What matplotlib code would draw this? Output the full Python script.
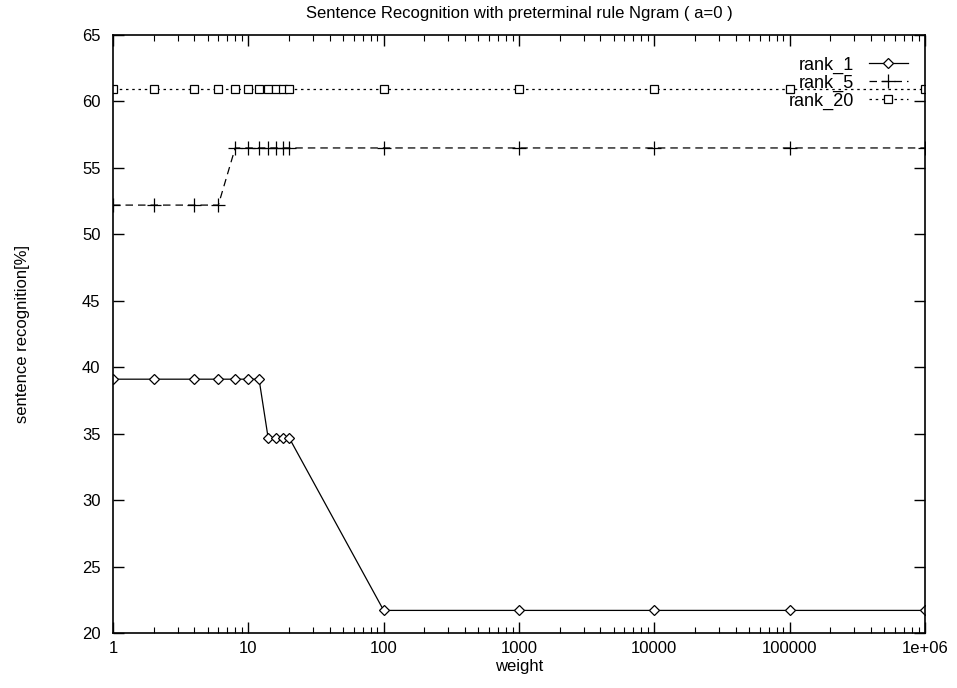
import matplotlib
matplotlib.use("Agg")
import matplotlib.pyplot as plt
from matplotlib.ticker import LogLocator, NullFormatter

plt.rcParams['font.family'] = ['Liberation Sans', 'DejaVu Sans']

weights = [1, 2, 4, 6, 8, 10, 12, 14, 16, 18, 20, 100, 1000, 10000, 100000, 1000000]
rank_1 = [39.1, 39.1, 39.1, 39.1, 39.1, 39.1, 39.1, 34.7, 34.7, 34.7, 34.7,
          21.7, 21.7, 21.7, 21.7, 21.7]
rank_5 = [52.2, 52.2, 52.2, 52.2, 56.5, 56.5, 56.5, 56.5, 56.5, 56.5, 56.5,
          56.5, 56.5, 56.5, 56.5, 56.5]
rank_20 = [60.9] * 16

xtick_vals = [1, 10, 100, 1000, 10000, 100000, 1000000]
xtick_labels = ["1", "10", "100", "1000", "10000", "100000", "1e+06"]
ytick_vals = [20, 25, 30, 35, 40, 45, 50, 55, 60, 65]

fig = plt.figure(figsize=(9.57, 6.88), dpi=100)
ax = fig.add_axes([113 / 957, 1 - 633 / 688, (925 - 113) / 957, (633 - 35) / 688])

ax.plot(weights, rank_1, color='black', lw=0.9, ls='-', marker='D', ms=5,
        mfc='white', mec='black', mew=0.9, label='rank_1')
ax.plot(weights, rank_5, color='black', lw=0.9, ls=(0, (6, 4)), marker='+', ms=10,
        mew=0.9, label='rank_5')
ax.plot(weights, rank_20, color='black', lw=0.9, ls=(0, (2, 3)), marker='s', ms=6,
        mfc='white', mec='black', mew=0.9, label='rank_20')

ax.set_xscale('log')
ax.set_xlim(1, 1e6)
ax.set_ylim(20, 65)
ax.set_xticks(xtick_vals)
ax.set_xticklabels(xtick_labels)
ax.xaxis.set_minor_locator(LogLocator(base=10, subs=range(2, 10), numticks=20))
ax.xaxis.set_minor_formatter(NullFormatter())
ax.set_yticks(ytick_vals)

ax.tick_params(which='major', direction='in', length=8, width=1.0,
               top=True, right=True, labelsize=12)
ax.tick_params(axis='y', which='major', pad=9)
ax.tick_params(axis='x', which='major', pad=6)
ax.tick_params(which='minor', direction='in', length=4, width=0.8,
               top=True, right=True)
for s in ax.spines.values():
    s.set_linewidth(1.2)

ax.set_title("Sentence Recognition with preterminal rule Ngram ( a=0 )",
             fontsize=12, pad=12)
ax.set_xlabel("weight", fontsize=12, labelpad=2)
ax.set_ylabel("sentence recognition[%]", fontsize=12, labelpad=37)

leg = ax.legend(loc='upper right', bbox_to_anchor=(0.995, 0.985), frameon=False,
                fontsize=13, markerfirst=False, handlelength=2.2,
                handletextpad=0.8, labelspacing=0.05, borderaxespad=0.3)

fig.savefig("out.png", dpi=100)
